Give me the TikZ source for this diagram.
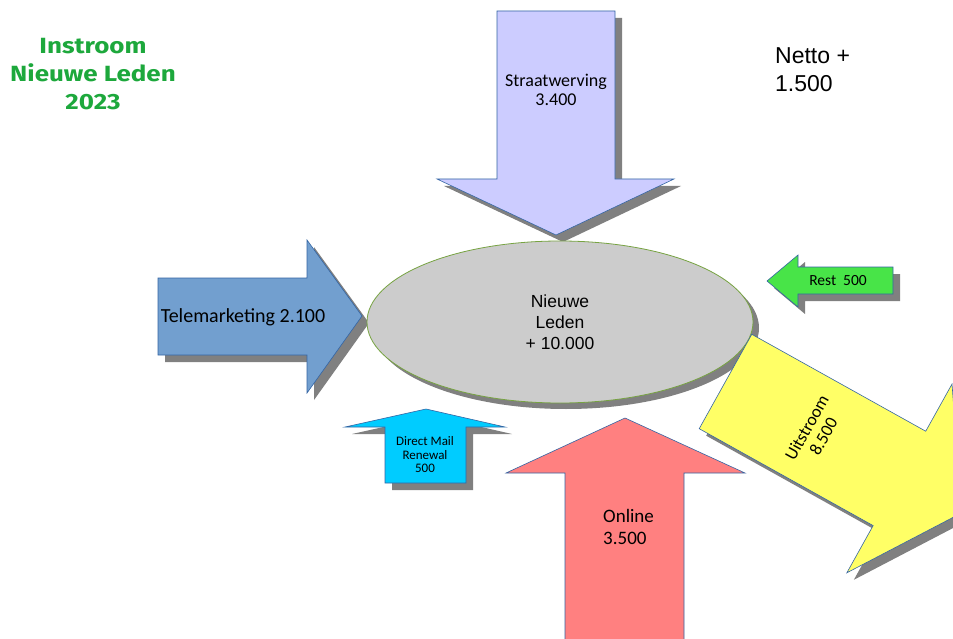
\documentclass[tikz,border=0pt]{standalone}
\usepackage{fontspec}
\usetikzlibrary{shapes.geometric}
\setmainfont{Carlito}
\newfontfamily\arialf{Liberation Sans}
\newfontfamily\titlef{Fira Sans}
\definecolor{lavc}{HTML}{CCCCFF}
\definecolor{telec}{HTML}{729FCF}
\definecolor{cyanc}{HTML}{00CCFF}
\definecolor{restc}{HTML}{48E448}
\definecolor{pinkc}{HTML}{FF8080}
\definecolor{yelc}{HTML}{FFFF66}
\definecolor{grayc}{HTML}{CCCCCC}
\definecolor{ellb}{HTML}{77A342}
\definecolor{shdc}{HTML}{808080}
\definecolor{bordc}{HTML}{3465A4}
\definecolor{titlec}{HTML}{1DA83C}
\tikzset{
  arrowbody/.style={draw=bordc, line width=0.6pt, line join=miter},
  shd/.style={fill=shdc, draw=none, shift={(7,7)}},
  lbl/.style={inner sep=0pt, align=center, text=black},
}
\begin{document}
\begin{tikzpicture}[x=1pt,y=-1pt]
\clip (0,0) rectangle (953,639);
\fill[white] (0,0) rectangle (953,639);
% Straatwerving (down)
\fill[shd] (497,11) -- (615,11) -- (615,179) -- (674,179) -- (556,235) -- (437,179) -- (497,179) -- cycle;
\path[arrowbody, fill=lavc] (497,11) -- (615,11) -- (615,179) -- (674,179) -- (556,235) -- (437,179) -- (497,179) -- cycle;
% Telemarketing (right)
\fill[shd] (158,278) -- (307,278) -- (307,240) -- (362,316) -- (307,393) -- (307,355) -- (158,355) -- cycle;
\path[arrowbody, fill=telec] (158,278) -- (307,278) -- (307,240) -- (362,316) -- (307,393) -- (307,355) -- (158,355) -- cycle;
% Rest (left)
\fill[shd] (767,281) -- (798,255) -- (798,267) -- (893,267) -- (893,294) -- (798,294) -- (798,307) -- cycle;
\path[arrowbody, fill=restc] (767,281) -- (798,255) -- (798,267) -- (893,267) -- (893,294) -- (798,294) -- (798,307) -- cycle;
% Direct Mail (up)
\fill[shd] (426,409) -- (505,427) -- (466,427) -- (466,483) -- (385,483) -- (385,427) -- (345,427) -- cycle;
\path[arrowbody, fill=cyanc] (426,409) -- (505,427) -- (466,427) -- (466,483) -- (385,483) -- (385,427) -- (345,427) -- cycle;
% Ellipse
\fill[shdc] (566,328) ellipse [x radius=193, y radius=81];
\node[draw=ellb, line width=0.8pt, fill=grayc, ellipse, minimum width=386pt, minimum height=162pt, inner sep=0pt] (nl) at (560,322) {};
% Online (up)
\path[arrowbody, fill=pinkc] (625,418) -- (745,473) -- (684,473) -- (684,660) -- (565,660) -- (565,473) -- (506,473) -- cycle;
% Uitstroom (rotated)
\begin{scope}[shift={(732.5,388.5)}, x={(0.874pt,-0.487pt)}, y={(-0.487pt,-0.874pt)}]
  \fill[shdc] (0,-54) -- (199,-54) -- (199,-108) -- (270,0) -- (199,108) -- (199,54) -- (0,54) -- cycle;
\end{scope}
\begin{scope}[shift={(725.5,381.5)}, x={(0.874pt,-0.487pt)}, y={(-0.487pt,-0.874pt)}]
  \path[arrowbody, fill=yelc] (0,-54) -- (199,-54) -- (199,-108) -- (270,0) -- (199,108) -- (199,54) -- (0,54) -- cycle;
\end{scope}
% Labels
\node[lbl, font=\titlef\bfseries\fontsize{22}{28}\selectfont, text=titlec, xscale=1.18, transform shape] (title) at (93,74) {Instroom\\Nieuwe Leden\\2023};
\node[lbl, anchor=west, align=left, font=\arialf\fontsize{23}{28}\selectfont] (netto) at (775,70) {Netto +\\1.500};
\node[lbl, font=\arialf\fontsize{17.5}{21}\selectfont] (nltext) at (nl.center) {Nieuwe\\Leden\\+ 10.000};
\node[lbl, font=\fontsize{18}{19.5}\selectfont] (straat) at (556,90) {Straatwerving\\3.400};
\node[lbl, font=\fontsize{20}{24}\selectfont] (tele) at (243,317) {Telemarketing 2.100};
\node[lbl, font=\fontsize{15.5}{18}\selectfont] (rest) at (838,281) {Rest\ \ 500};
\node[lbl, font=\fontsize{13}{13.5}\selectfont] (dm) at (425,455) {Direct Mail\\Renewal\\500};
\node[lbl, anchor=west, align=left, font=\fontsize{19}{22}\selectfont] (online) at (603,527) {Online\\3.500};
\node[lbl, rotate=61, font=\fontsize{17.5}{19}\selectfont] (uit) at (815,432) {Uitstroom\\8.500};
\end{tikzpicture}
\end{document}
